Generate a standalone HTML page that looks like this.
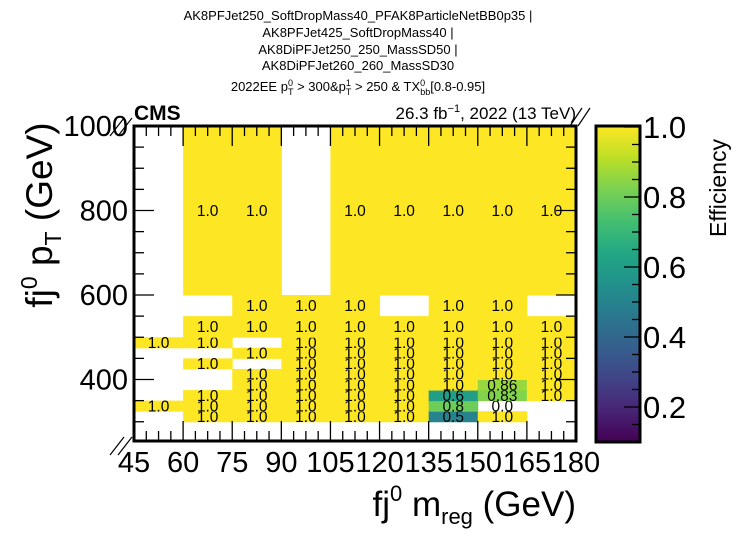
<!DOCTYPE html>
<html><head><meta charset="utf-8">
<style>
html,body{margin:0;padding:0;background:#fff;}
svg{display:block;font-family:"Liberation Sans",Arial,sans-serif;}
</style></head>
<body>
<svg id="chart" width="741" height="542" viewBox="0 0 741 542" xmlns="http://www.w3.org/2000/svg">
  <defs>
    <linearGradient id="viridis" x1="0" y1="1" x2="0" y2="0">
      <stop offset="0" stop-color="#440154"/>
      <stop offset="0.1" stop-color="#482475"/>
      <stop offset="0.2" stop-color="#414487"/>
      <stop offset="0.3" stop-color="#355f8d"/>
      <stop offset="0.4" stop-color="#2a788e"/>
      <stop offset="0.5" stop-color="#21918c"/>
      <stop offset="0.6" stop-color="#22a884"/>
      <stop offset="0.7" stop-color="#44bf70"/>
      <stop offset="0.8" stop-color="#7ad151"/>
      <stop offset="0.9" stop-color="#bddf26"/>
      <stop offset="1" stop-color="#fde725"/>
    </linearGradient>
  </defs>
  <g font-size="13" text-anchor="middle" fill="#000">
    <text x="358" y="20">AK8PFJet250_SoftDropMass40_PFAK8ParticleNetBB0p35 |</text>
    <text x="358" y="37">AK8PFJet425_SoftDropMass40 |</text>
    <text x="358" y="54">AK8DiPFJet250_250_MassSD50 |</text>
    <text x="358" y="70">AK8DiPFJet260_260_MassSD30</text>
    <text x="358" y="91">2022EE p<tspan font-size="9" dy="-5">0</tspan><tspan font-size="9" dx="-5" dy="9">T</tspan><tspan dy="-4"> &gt; 300&amp;p</tspan><tspan font-size="9" dy="-5">1</tspan><tspan font-size="9" dx="-5" dy="9">T</tspan><tspan dy="-4"> &gt; 250 &amp; TX</tspan><tspan font-size="9" dy="-5">0</tspan><tspan font-size="9" dx="-5" dy="9">bb</tspan><tspan dy="-4">[0.8-0.95]</tspan></text>
  </g>
  <text x="134" y="120" font-size="21" font-weight="bold">CMS</text>
  <text x="576" y="119" font-size="17" text-anchor="end">26.3 fb<tspan font-size="11" dy="-7">−1</tspan><tspan dy="7">, 2022 (13 TeV)</tspan></text>
  <g id="cells"></g>
  <g id="axes"></g>
  <g>
    <rect x="596" y="126" width="44" height="316" fill="url(#viridis)" stroke="#000" stroke-width="3"/>
    <g id="cbticks"></g>
    <text transform="translate(726,188) rotate(-90)" font-size="23" text-anchor="middle">Efficiency</text>
  </g>
  <text transform="translate(52,215) rotate(-90)" font-size="37" text-anchor="middle">fj<tspan font-size="23" dy="-15">0</tspan><tspan dy="15"> p</tspan><tspan font-size="23" dy="9">T</tspan><tspan dy="-9"> (GeV)</tspan></text>
  <text x="576" y="516" font-size="35" text-anchor="end">fj<tspan font-size="22" dy="-15">0</tspan><tspan dy="15"> m</tspan><tspan font-size="22" dy="8">reg</tspan><tspan dy="-8"> (GeV)</tspan></text>
</svg>
<script>
const xEdges = [45,60,75,90,105,120,135,150,165,180];
const yEdges = [300,325,350,375,400,425,450,475,500,550,600,1000];
const xTicks = [45,60,75,90,105,120,135,150,165,180];
const yTicks = [400,600,800,1000];
const cbTicks = [0.2,0.4,0.6,0.8,1.0];
// values[col][row], rows from bottom (300-325) to top (600-1000); null = empty
const col45  = [null,1.0,null,null,null,null,null,1.0,null,null,null];
const col60  = [1.0,1.0,1.0,null,null,1.0,null,1.0,1.0,null,1.0];
const col75  = [1.0,1.0,1.0,1.0,1.0,null,1.0,null,1.0,1.0,1.0];
const col90  = [1.0,1.0,1.0,1.0,1.0,1.0,1.0,1.0,1.0,1.0,null];
const col105 = [1.0,1.0,1.0,1.0,1.0,1.0,1.0,1.0,1.0,1.0,1.0];
const col120 = [1.0,1.0,1.0,1.0,1.0,1.0,1.0,1.0,1.0,null,1.0];
const col135 = [0.5,0.8,0.6,1.0,1.0,1.0,1.0,1.0,1.0,1.0,1.0];
const col150 = [1.0,0.0,0.83,0.86,1.0,1.0,1.0,1.0,1.0,1.0,1.0];
const col165 = [null,null,1.0,1.0,1.0,1.0,1.0,1.0,1.0,null,1.0];
const values = [col45,col60,col75,col90,col105,col120,col135,col150,col165];

const X0=134,X1=576,Y0=126,Y1=441, XMIN=45,XMAX=180, YTOP=1000, YPX=0.4225;
const CMIN=0.1,CMAX=1.0, CB0=127, CB1=442;
function xs(v){return X0+(v-XMIN)/(XMAX-XMIN)*(X1-X0);}
function ys(v){return Y0+(YTOP-v)*YPX;}
function cs(v){return CB1-(v-CMIN)/(CMAX-CMIN)*(CB1-CB0);}
const vir=[[68,1,84],[72,36,117],[65,68,135],[53,95,141],[42,120,142],[33,145,140],[34,168,132],[68,191,112],[122,209,81],[189,223,38],[253,231,37]];
function color(v){let t=(v-CMIN)/(CMAX-CMIN);t=Math.max(0,Math.min(1,t))*10;const i=Math.min(9,Math.floor(t)),f=t-i;
 const c=vir[i].map((a,k)=>Math.round(a+(vir[i+1][k]-a)*f));return `rgb(${c})`;}
const NS="http://www.w3.org/2000/svg";
function mk(tag,attrs,parent){const e=document.createElementNS(NS,tag);for(const k in attrs)e.setAttribute(k,attrs[k]);parent.appendChild(e);return e;}
const cells=document.getElementById('cells');
values.forEach((col,i)=>{col.forEach((v,j)=>{
  if(v===null)return;
  const x=xs(xEdges[i]),w=xs(xEdges[i+1])-x,yt=ys(yEdges[j+1]),h=ys(yEdges[j])-yt;
  if(v>=CMIN){const r=mk('rect',{x:x,y:yt,width:w+0.5,height:h+0.5,fill:color(v)},cells);
    
    }
  const t=mk('text',{x:x+w/2,y:yt+h/2+5.5,'font-size':15.5,'text-anchor':'middle'},cells);
  t.textContent=(v===1?'1.0':(v===0?'0.0':String(v)));
  
  
});});
const ax=document.getElementById('axes');
const fr=mk('rect',{x:X0,y:Y0,width:X1-X0,height:Y1-Y0,fill:'none',stroke:'#000','stroke-width':3},ax);


for(let v=XMIN;v<=XMAX;v+=3.75){const x=xs(v),maj=Math.abs((v-XMIN)%15)<0.01,L=maj?20:10;
  mk('line',{x1:x,x2:x,y1:Y1,y2:Y1-L,stroke:'#000','stroke-width':1.3},ax);
  mk('line',{x1:x,x2:x,y1:Y0,y2:Y0+L,stroke:'#000','stroke-width':1.3},ax);}
xTicks.forEach(v=>{const t=mk('text',{x:xs(v),y:472,'font-size':29,'text-anchor':'middle'},ax);t.textContent=v;
  
  });
for(let v=300;v<=1000;v+=50){const y=ys(v),maj=v%200===0,L=maj?20:10;
  mk('line',{x1:X0,x2:X0+L,y1:y,y2:y,stroke:'#000','stroke-width':1.3},ax);
  mk('line',{x1:X1,x2:X1-L,y1:y,y2:y,stroke:'#000','stroke-width':1.3},ax);}
yTicks.forEach(v=>{const t=mk('text',{x:128,y:ys(v)+10,'font-size':29,'text-anchor':'end'},ax);t.textContent=v;
  
  });
[[110,136,124,118],[118,136,132,118],[110,455,124,437],[118,455,132,437],[578,126,590,108],[570,126,582,108]].forEach(p=>{
  mk('line',{x1:p[0],y1:p[1],x2:p[2],y2:p[3],stroke:'#000','stroke-width':1.2},ax);});
const cb=document.getElementById('cbticks');
for(let v=0.1;v<=1.0001;v+=0.05){const y=cs(v),maj=Math.abs(Math.round(v*10)-v*10)<0.01&&Math.round(v*10)%2===0,L=maj?16:8;
  mk('line',{x1:640,x2:640-L,y1:y,y2:y,stroke:'#000','stroke-width':1.3},cb);}
cbTicks.forEach(v=>{const t=mk('text',{x:643,y:cs(v)+11,'font-size':31},cb);t.textContent=v.toFixed(1);
  
  });
</script>
</body></html>
